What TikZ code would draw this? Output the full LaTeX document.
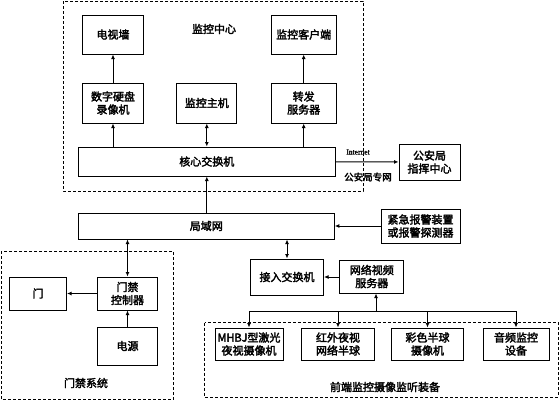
\documentclass[tikz,border=0pt]{standalone}
\usepackage{fontspec}
\newfontfamily\cjk{Noto Sans CJK SC}[FakeBold=2.5]
\newfontfamily\latinbold{Liberation Serif}[FakeBold=2]
\usetikzlibrary{arrows.meta}
\tikzset{
  box/.style={draw,line width=1pt,align=center,inner sep=1pt,font=\cjk\fontsize{11}{13}\selectfont},
  group/.style={draw,line width=1pt,dash pattern=on 3pt off 2pt},
  label/.style={font=\cjk\fontsize{11}{13}\selectfont},
  >={Latex[length=4.5pt,width=4pt]}
}
\begin{document}
\begin{tikzpicture}[x=1pt,y=-1pt]
  \useasboundingbox (0,0) rectangle (559,400);
  % frames
  \draw[group] (63,1) rectangle (363,191);
  \draw[group] (1,251) rectangle (173.5,399);
  \draw[group] (204.5,322.5) rectangle (558,397);
  \node[label] (centerlabel) at (214,29) {监控中心};
  \node[label] (doorlabel) at (86,383) {门禁系统};
  \node[label] (frontlabel) at (385,387) {前端监控摄像监听装备};
  % boxes
  \node[box,minimum width=61,minimum height=39] (tvwall) at (113,34.5) {电视墙};
  \node[box,minimum width=65,minimum height=39] (client) at (303.7,34.5) {监控客户端};
  \node[box,minimum width=61,minimum height=40] (dvr) at (113,103) {数字硬盘\\录像机};
  \node[box,minimum width=60,minimum height=40] (host) at (206.8,103) {监控主机};
  \node[box,minimum width=65,minimum height=40] (fwd) at (303.7,103) {转发\\服务器};
  \node[box,minimum width=257,minimum height=29] (core) at (206.8,161.5) {核心交换机};
  \node[box,minimum width=61,minimum height=36] (police) at (429.5,162) {公安局\\指挥中心};
  \node[box,minimum width=256,minimum height=26] (lan) at (206.3,226) {局域网};
  \node[box,minimum width=79,minimum height=34] (alarm) at (420.5,226) {紧急报警装置\\或报警探测器};
  \node[box,minimum width=57,minimum height=33] (door) at (38,293.5) {门};
  \node[box,minimum width=60,minimum height=33] (ctrl) at (127.5,293.5) {门禁\\控制器};
  \node[box,minimum width=60,minimum height=38] (power) at (127.5,346) {电源};
  \node[box,minimum width=73,minimum height=36] (access) at (287,277) {接入交换机};
  \node[box,minimum width=64,minimum height=33] (nvs) at (371.8,276.5) {网络视频\\服务器};
  \node[box,minimum width=68,minimum height=32] (cam1) at (249,344) {MHBJ型激光\\夜视摄像机};
  \node[box,minimum width=73,minimum height=32] (cam2) at (338,344) {红外夜视\\网络半球};
  \node[box,minimum width=72,minimum height=32] (cam3) at (427.5,344) {彩色半球\\摄像机};
  \node[box,minimum width=66,minimum height=32] (cam4) at (516,344) {音频监控\\设备};
  \node[font=\latinbold\fontsize{7.5}{8}\selectfont] (internet) at (358,152) {Internet};
  \node[font=\cjk\fontsize{9.5}{10}\selectfont] (private) at (368,177) {公安局专网};
  \coordinate (fork) at (376,311);
  % connections
  \begin{scope}[line width=1pt]
    \draw[->] (dvr) -- (tvwall);
    \draw[->] (fwd) -- (client);
    \draw[->] (core.north -| dvr) -- (dvr);
    \draw[->] (core.north -| fwd) -- (fwd);
    \draw[<->] (core.north -| host) -- (host);
    \draw[->] (core) -- (police);
    \draw[->] (lan.north -| core) -- (core);
    \draw[->] (alarm) -- (alarm -| lan.east);
    \draw[<->] (lan.south -| ctrl) -- (ctrl);
    \draw[<->] (lan.south -| access) -- (access);
    \draw[->] (ctrl) -- (door);
    \draw[->] (power) -- (ctrl);
    \draw[->] (nvs.west |- access) -- (access);
    \draw[->] (fork) -- (fork |- nvs.south);
    \draw (fork -| cam1) -- (fork -| cam4);
    \foreach \c in {cam1,cam2,cam3,cam4}
      \draw[->] (fork -| \c) -- (\c);
  \end{scope}
\end{tikzpicture}
\end{document}
